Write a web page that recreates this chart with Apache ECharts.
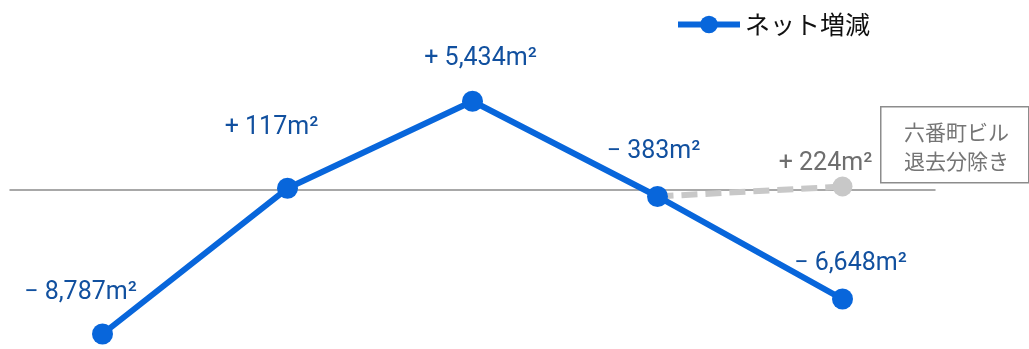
<!DOCTYPE html>
<html>
<head>
<meta charset="utf-8">
<style>html,body{margin:0;padding:0;background:#fff;}#c{width:1029px;height:349px;}</style>
<script src="https://cdn.jsdelivr.net/npm/echarts@6/dist/echarts.min.js"></script>
</head>
<body>
<div id="c"></div>
<script>
const categories = ['P1', 'P2', 'P3', 'P4', 'P5'];
const netChange = [-8787, 117, 5434, -383, -6648];
const excludedChange = [null, null, null, -383, 224];
const seriesName = 'ネット増減';
const noteLines = ['六番町ビル', '退去分除き'];

const blueOffsets = [[-22, -41], [-16, -61], [8, -43], [-4, -45], [8, -35]];
const grayOffset = [-17, -23];

function fmt(v) {
  const s = v < 0 ? '− ' : '+ ';
  return s + Math.abs(v).toLocaleString('en-US') + 'm²';
}

const chart = echarts.init(document.getElementById('c'));
const labelFont = { fontFamily: 'Roboto', fontSize: 25 };

chart.setOption({
  animation: false,
  grid: { left: 10, width: 925, top: 92, height: 245.5 },
  legend: {
    data: [seriesName],
    left: 670, top: 7,
    itemWidth: 62, itemHeight: 22, itemGap: 2,
    lineStyle: { width: 6 },
    textStyle: { fontFamily: 'Noto Sans CJK JP', fontSize: 25, color: '#111' }
  },
  xAxis: {
    type: 'category', data: categories, boundaryGap: true,
    axisLine: { onZero: true, lineStyle: { color: '#8c8c8c', width: 1.5 } },
    axisTick: { show: false }, axisLabel: { show: false }, splitLine: { show: false }
  },
  yAxis: {
    type: 'value', min: -9000, max: 6000, show: false,
    splitLine: { show: false }
  },
  series: [
    {
      name: '除き', type: 'line', z: 1,
      data: excludedChange.map((v, i) => ({
        value: v,
        symbolSize: i === excludedChange.length - 1 ? 20 : 0,
        label: i === excludedChange.length - 1 ? { show: true, offset: grayOffset } : { show: false }
      })),
      lineStyle: { color: '#c8c8c8', width: 6, type: [16, 8] },
      itemStyle: { color: '#c8c8c8' },
      symbol: 'circle',
      label: Object.assign({ position: 'inside', color: '#6e6e6e', formatter: p => fmt(p.value) }, labelFont)
    },
    {
      name: seriesName, type: 'line', z: 3,
      data: netChange.map((v, i) => ({ value: v, label: { offset: blueOffsets[i] } })),
      symbol: 'circle', symbolSize: 21,
      lineStyle: { color: '#0866db', width: 6 },
      itemStyle: { color: '#0866db' },
      label: Object.assign({ show: true, position: 'inside', color: '#11509f', formatter: p => fmt(p.value) }, labelFont)
    }
  ],
  graphic: [
    {
      type: 'rect', left: 880, top: 106, z: 10,
      shape: { width: 148, height: 76 },
      style: { fill: '#fff', stroke: '#8c8c8c', lineWidth: 1.5 }
    },
    {
      type: 'text', left: 904, top: 118, z: 11,
      style: { text: noteLines.join('\n'), fontFamily: 'Noto Sans CJK JP', fontSize: 21, lineHeight: 29, fill: '#757575' }
    }
  ]
});
</script>
</body>
</html>
